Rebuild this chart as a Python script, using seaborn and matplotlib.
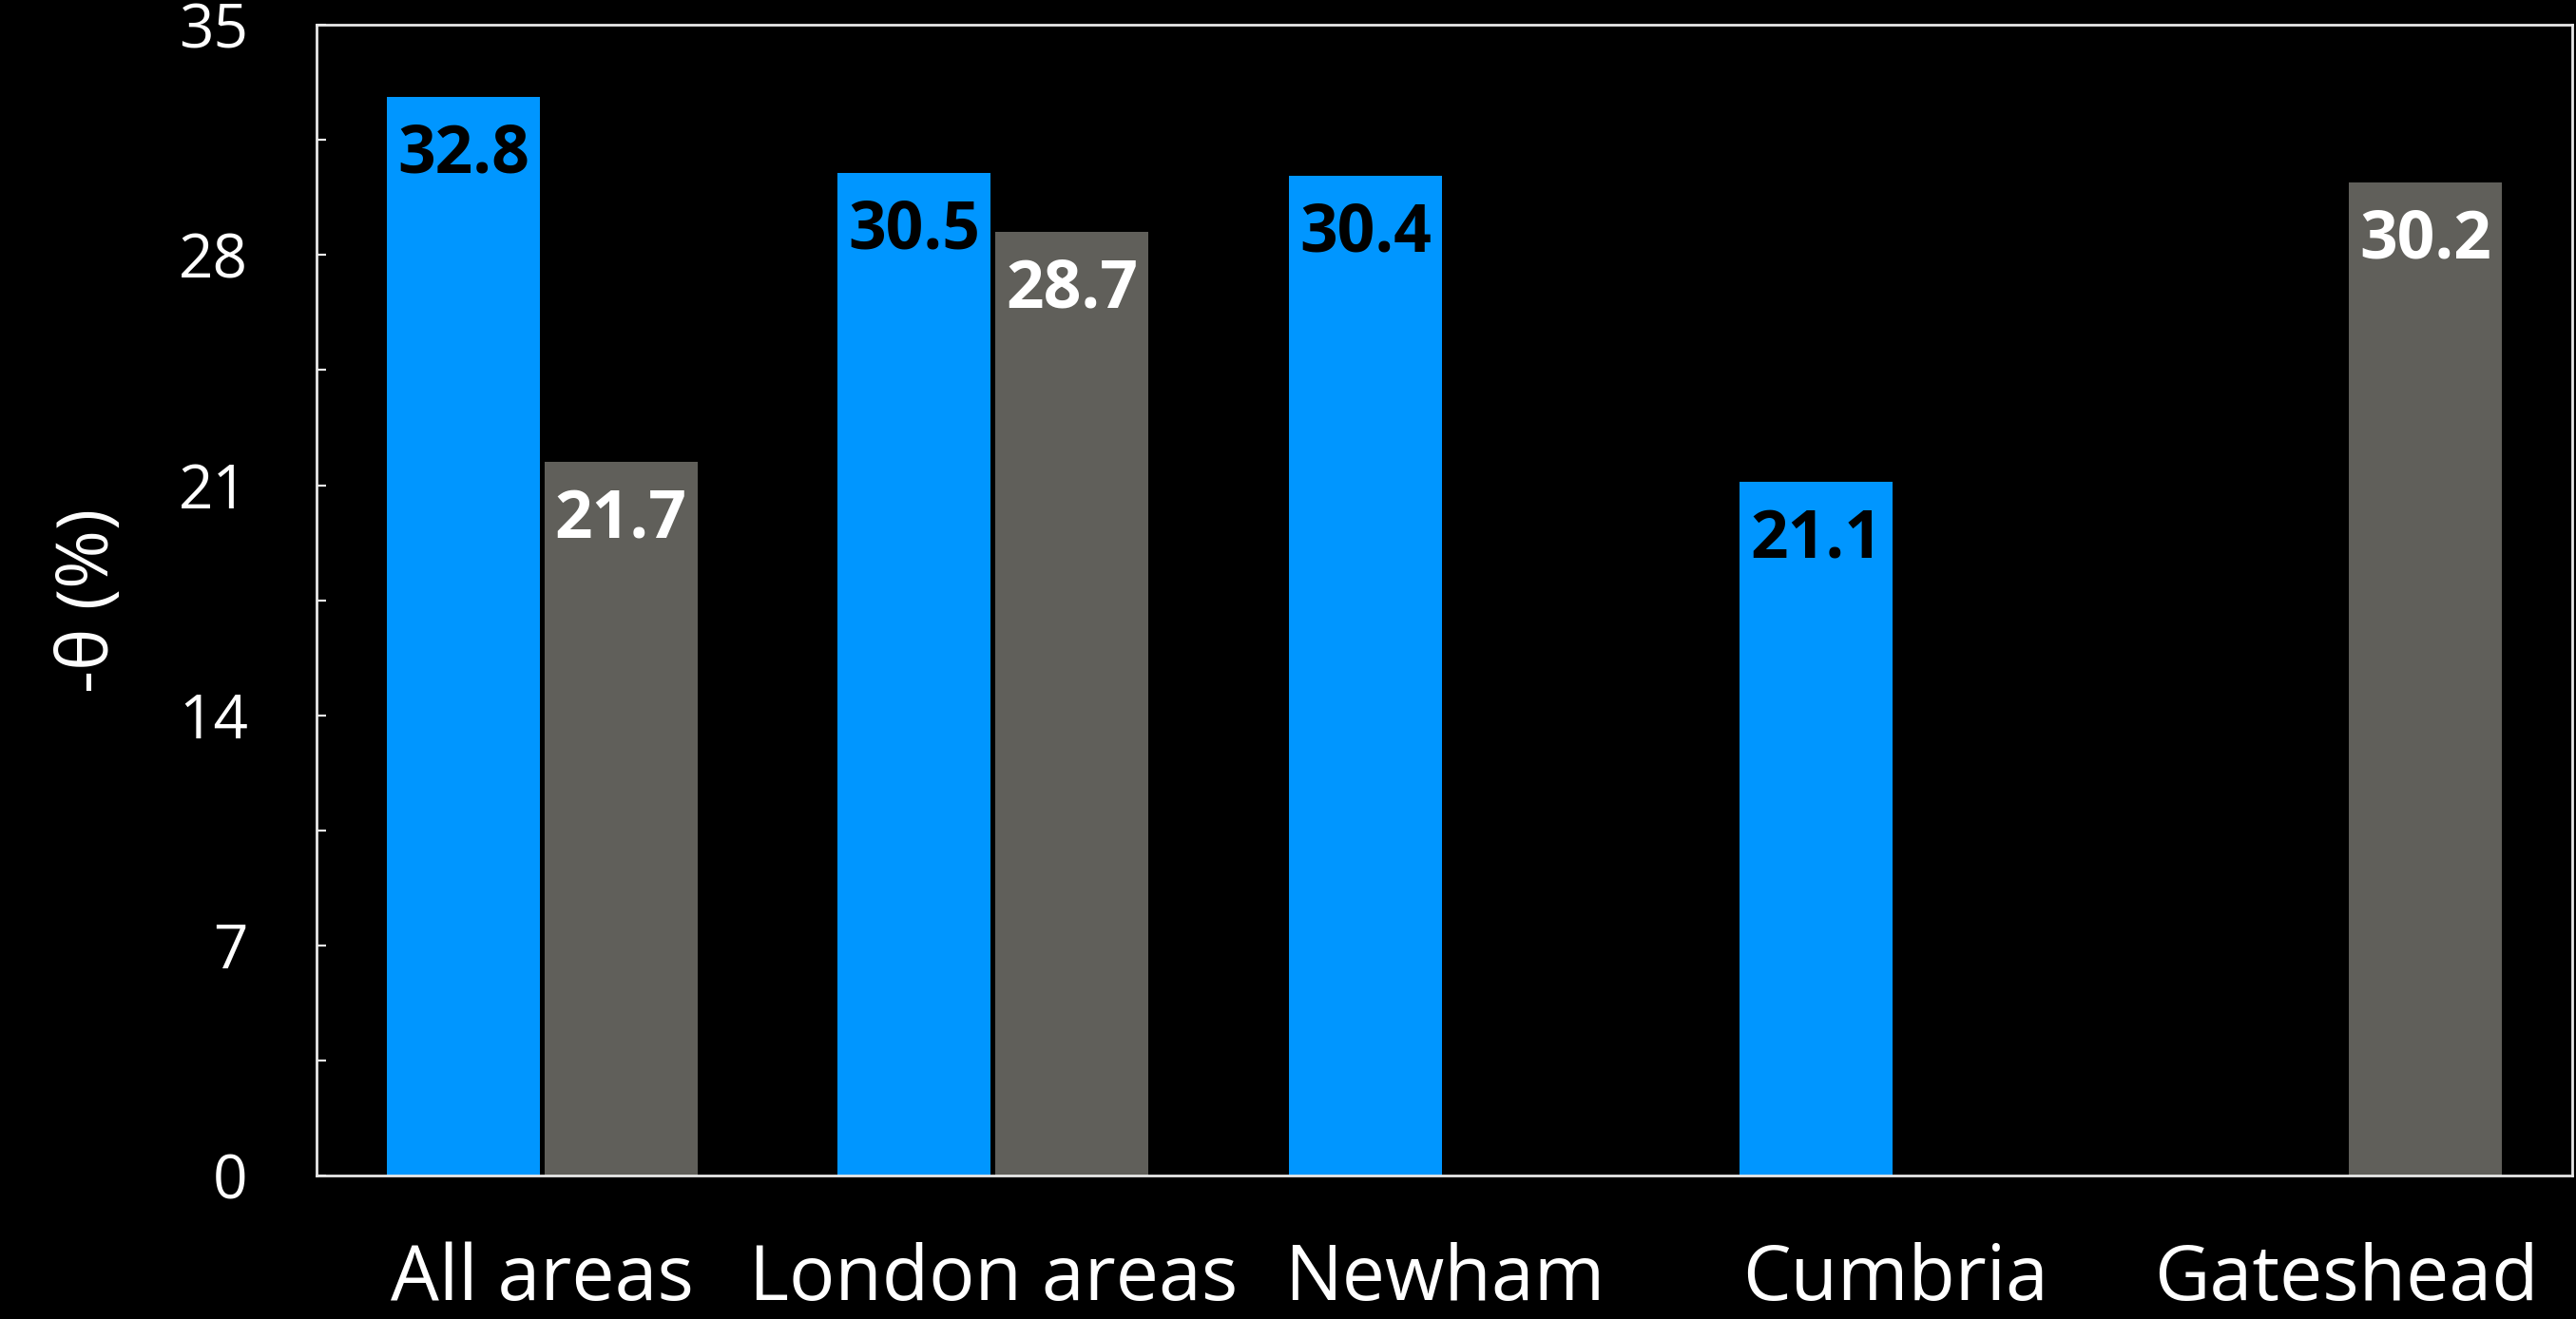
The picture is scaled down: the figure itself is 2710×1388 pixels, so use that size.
import matplotlib
matplotlib.use("Agg")
import matplotlib.pyplot as plt
import numpy as np
import pandas as pd
import seaborn as sns
from matplotlib.ticker import MultipleLocator


AREAS = ["All areas", "London areas", "Newham", "Cumbria", "Gateshead"]
SERIES = ["first", "second"]
FIRST = [32.8, 30.5, 30.4, 21.1, np.nan]
SECOND = [21.7, 28.7, np.nan, np.nan, 30.2]
Y_TICKS = [0, 7, 14, 21, 28, 35]

BLUE = "#0096ff"
GREY = "#605f5a"

sns.set_theme(style="ticks")
plt.rcParams.update({
    "figure.facecolor": "black",
    "axes.facecolor": "black",
    "savefig.facecolor": "black",
    "text.color": "white",
    "axes.labelcolor": "white",
    "xtick.color": "white",
    "ytick.color": "white",
})
plt.rcParams["font.family"] = ["Open Sans", "DejaVu Sans"]


def build_frame() -> pd.DataFrame:
    df = pd.DataFrame({"area": AREAS * 2,
                       "series": [SERIES[0]] * len(AREAS) + [SERIES[1]] * len(AREAS),
                       "value": FIRST + SECOND})
    return df.dropna()


def main() -> None:
    df = build_frame()
    fig = plt.figure(figsize=(27.1, 13.88), dpi=100)
    ax = fig.add_axes([0.1229, 0.109, 0.8755, 0.872])

    sns.barplot(data=df, x="area", y="value", hue="series", order=AREAS, hue_order=SERIES,
                palette=[BLUE, GREY], width=0.7, gap=0.03, dodge=True, legend=False,
                linewidth=0, saturation=1, ax=ax)

    # value labels sit inside the top of each bar
    label_colors = ["black", "white"]
    for cont, col in zip(ax.containers, label_colors):
        for bar in cont:
            h = bar.get_height()
            if np.isnan(h):
                continue
            ax.annotate(f"{h:.1f}", (bar.get_x() + bar.get_width() / 2, h),
                        xytext=(0, -44), textcoords="offset points",
                        ha="center", va="center", fontsize=50, fontweight="bold", color=col)

    ax.set_xlim(-0.5, 4.5)
    ax.set_ylim(0, 35)
    ax.set_yticks(Y_TICKS)
    ax.yaxis.set_minor_locator(MultipleLocator(3.5))
    ax.tick_params(axis="y", which="both", direction="in", length=7, width=1.5,
                   labelsize=46, pad=52, left=True, right=False)
    ax.tick_params(axis="x", length=0, labelsize=58, pad=50)
    for s in ax.spines.values():
        s.set_visible(True)
        s.set_color("#e8e8e8")
        s.set_linewidth(2)

    ax.set_xlabel("")
    ax.set_ylabel("-θ (%)", fontsize=54, labelpad=40)

    fig.savefig("out.png", dpi=100)
    plt.close(fig)


if __name__ == "__main__":
    main()
